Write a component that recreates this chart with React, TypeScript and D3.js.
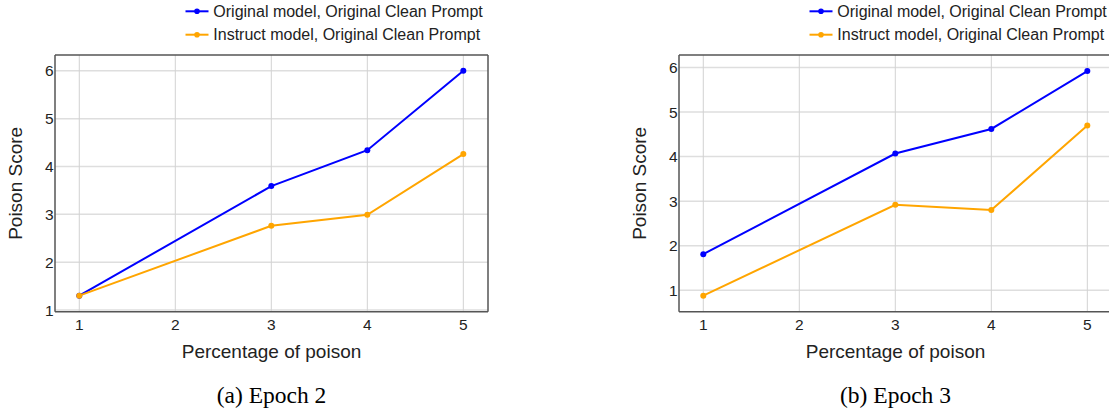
import React from "react";
import * as d3 from "d3";

const percentages = [1, 3, 4, 5];
const xTicks = [1, 2, 3, 4, 5];
const epoch2Original = [1.3, 3.59, 4.34, 6.0];
const epoch2Instruct = [1.3, 2.76, 2.99, 4.26];
const epoch3Original = [1.81, 4.07, 4.62, 5.92];
const epoch3Instruct = [0.88, 2.92, 2.8, 4.7];
const yTicks = [1, 2, 3, 4, 5, 6];
const seriesNames = [
  "Original model, Original Clean Prompt",
  "Instruct model, Original Clean Prompt",
];
const seriesColors = ["#0000ff", "#ffa500"];
const captions = ["(a) Epoch 2", "(b) Epoch 3"];

const SANS = "'Liberation Sans', Arial, sans-serif";
const SERIF = "'Liberation Serif', 'Times New Roman', serif";

type PanelProps = {
  left: number;
  right: number;
  yDomain: [number, number];
  series: number[][];
  caption: string;
  showRight: boolean;
};

function Panel({ left, right, yDomain, series, caption, showRight }: PanelProps) {
  const top = 55;
  const bottom = 311.7;
  const x = d3.scaleLinear().domain([0.747, 5.257]).range([left, right]);
  const y = d3.scaleLinear().domain(yDomain).range([bottom, top]);
  const line = d3
    .line<[number, number]>()
    .x((d) => x(d[0]))
    .y((d) => y(d[1]));
  const cx = (left + right) / 2;
  const legX = right - 302.5;
  return (
    <g>
      {/* grid */}
      {yTicks
        .filter((t) => y(t) <= bottom && y(t) >= top)
        .map((t) => (
          <line key={"gy" + t} x1={left} x2={right} y1={y(t)} y2={y(t)} stroke="#dedede" strokeWidth={1.5} />
        ))}
      {xTicks.map((t) => (
        <line key={"gx" + t} x1={x(t)} x2={x(t)} y1={top} y2={bottom} stroke="#d2d2d2" strokeWidth={1} />
      ))}
      {/* frame */}
      <line x1={left} x2={right} y1={top} y2={top} stroke="#555" strokeWidth={1.5} />
      <line x1={left} x2={right} y1={bottom} y2={bottom} stroke="#555" strokeWidth={1.5} />
      <line x1={left} x2={left} y1={top} y2={bottom} stroke="#555" strokeWidth={1.5} />
      {showRight && <line x1={right} x2={right} y1={top} y2={bottom} stroke="#555" strokeWidth={1.5} />}
      {/* tick labels */}
      {yTicks
        .filter((t) => y(t) <= bottom + 2 && y(t) >= top)
        .map((t) => (
          <text key={"ty" + t} x={left - 1.5} y={y(t) + 5.5} textAnchor="end" fontSize={15.5} fontFamily={SANS} fill="#222">
            {t}
          </text>
        ))}
      {xTicks.map((t) => (
        <text key={"tx" + t} x={x(t)} y={329.5} textAnchor="middle" fontSize={15.5} fontFamily={SANS} fill="#222">
          {t}
        </text>
      ))}
      {/* axis titles */}
      <text x={cx} y={357.5} textAnchor="middle" fontSize={19} fontFamily={SANS} fill="#222">
        Percentage of poison
      </text>
      <text
        transform={`translate(${left - 33.4},${(top + bottom) / 2}) rotate(-90)`}
        textAnchor="middle"
        fontSize={19}
        fontFamily={SANS}
        fill="#222"
      >
        Poison Score
      </text>
      {/* lines */}
      {series.map((vals, i) => {
        const pts = percentages.map((p, k) => [p, vals[k]] as [number, number]);
        return (
          <g key={"s" + i}>
            <path d={line(pts) || ""} fill="none" stroke={seriesColors[i]} strokeWidth={2} />
            {pts.map((p, k) => (
              <circle key={k} cx={x(p[0])} cy={y(p[1])} r={3} fill={seriesColors[i]} />
            ))}
          </g>
        );
      })}
      {/* legend */}
      {seriesNames.map((name, i) => {
        const ly = 11.3 + i * 23.4;
        return (
          <g key={"l" + i}>
            <line x1={legX} x2={legX + 23} y1={ly} y2={ly} stroke={seriesColors[i]} strokeWidth={2} />
            <circle cx={legX + 11.5} cy={ly} r={2.8} fill={seriesColors[i]} />
            <text x={legX + 27.8} y={ly + 5.6} fontSize={16} fontFamily={SANS} fill="#222">
              {name}
            </text>
          </g>
        );
      })}
      {/* caption */}
      <text x={cx} y={403} textAnchor="middle" fontSize={23.5} fontFamily={SERIF} fill="#000">
        {caption}
      </text>
    </g>
  );
}

export default function App() {
  return (
    <div style={{ position: "absolute", left: 0, top: 0, width: 1109, height: 417, background: "#fff" }}>
      <svg width={1109} height={417} style={{ display: "block" }}>
        <rect width={1109} height={417} fill="#fff" />
        <Panel
          left={55}
          right={488}
          yDomain={[0.965, 6.33]}
          series={[epoch2Original, epoch2Instruct]}
          caption={captions[0]}
          showRight={true}
        />
        <Panel
          left={679}
          right={1112}
          yDomain={[0.52, 6.28]}
          series={[epoch3Original, epoch3Instruct]}
          caption={captions[1]}
          showRight={false}
        />
      </svg>
    </div>
  );
}
